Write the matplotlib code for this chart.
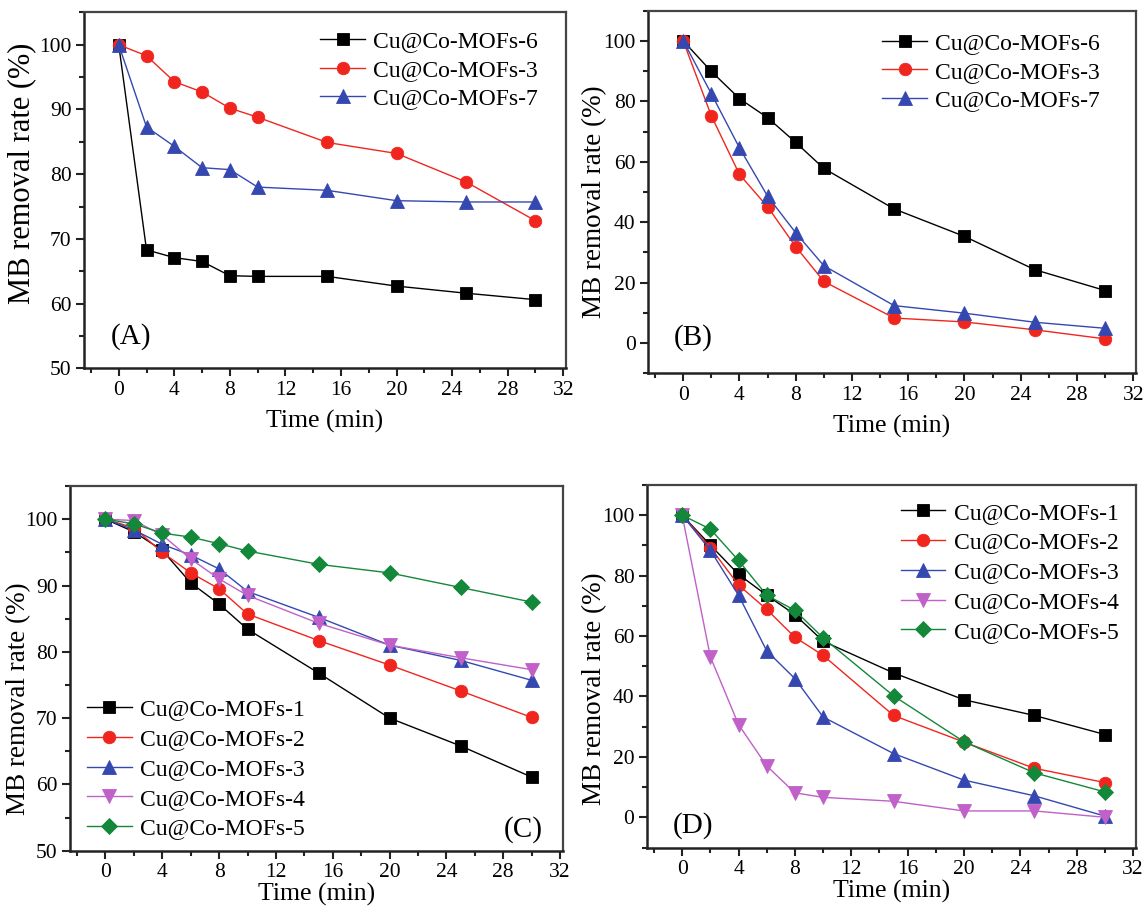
import matplotlib
matplotlib.use("Agg")
import matplotlib.pyplot as plt
from matplotlib.ticker import MultipleLocator

plt.rcParams['font.family'] = ['Liberation Serif', 'DejaVu Serif']

time = [0, 2, 4, 6, 8, 10, 15, 20, 25, 30]

# Panel A
a_labels = ['Cu@Co-MOFs-6', 'Cu@Co-MOFs-3', 'Cu@Co-MOFs-7']
a_m6 = [100, 68.3, 67.1, 66.5, 64.3, 64.2, 64.2, 62.7, 61.6, 60.6]
a_m3 = [100, 98.3, 94.3, 92.7, 90.2, 88.8, 84.9, 83.2, 78.8, 72.8]
a_m7 = [100, 87.3, 84.3, 81.0, 80.7, 78.0, 77.5, 75.9, 75.7, 75.7]

# Panel B
b_labels = ['Cu@Co-MOFs-6', 'Cu@Co-MOFs-3', 'Cu@Co-MOFs-7']
b_m6 = [100, 89.9, 80.9, 74.6, 66.4, 57.8, 44.4, 35.3, 24.3, 17.4]
b_m3 = [100, 75.2, 55.8, 45.1, 31.9, 20.4, 8.3, 7.0, 4.4, 1.4]
b_m7 = [100, 82.5, 64.6, 48.6, 36.5, 25.6, 12.4, 9.9, 6.9, 4.9]

# Panel C
c_labels = ['Cu@Co-MOFs-1', 'Cu@Co-MOFs-2', 'Cu@Co-MOFs-3', 'Cu@Co-MOFs-4', 'Cu@Co-MOFs-5']
c_m1 = [100, 98.1, 95.3, 90.4, 87.2, 83.4, 76.8, 70.0, 65.8, 61.1]
c_m2 = [100, 98.7, 95.0, 91.9, 89.5, 85.7, 81.7, 78.0, 74.1, 70.1]
c_m3 = [100, 98.4, 96.2, 94.6, 92.5, 89.1, 85.2, 81.0, 78.7, 75.7]
c_m4 = [100, 99.8, 97.6, 94.0, 91.0, 88.5, 84.3, 81.0, 79.1, 77.3]
c_m5 = [100, 99.3, 97.9, 97.3, 96.3, 95.2, 93.2, 91.9, 89.7, 87.5]

# Panel D
d_labels = ['Cu@Co-MOFs-1', 'Cu@Co-MOFs-2', 'Cu@Co-MOFs-3', 'Cu@Co-MOFs-4', 'Cu@Co-MOFs-5']
d_m1 = [100, 90.1, 80.4, 73.5, 67.1, 58.3, 47.8, 38.9, 33.7, 27.4]
d_m2 = [100, 89.3, 76.9, 68.8, 59.6, 53.6, 33.7, 24.9, 16.2, 11.5]
d_m3 = [100, 88.4, 73.5, 55.1, 45.9, 33.2, 21.1, 12.3, 7.1, 0.4]
d_m4 = [100, 53.1, 30.7, 17.0, 8.1, 6.6, 5.3, 2.1, 2.1, 0.0]
d_m5 = [100, 95.4, 85.0, 73.5, 68.5, 59.4, 40.2, 25.0, 14.7, 8.4]

BLACK = '#000000'
RED = '#f0261e'
BLUE = '#3548b0'
PURPLE = '#c060c8'
GREEN = '#13883a'

styles = {
    'black': dict(color=BLACK, marker='s', ms=8),
    'red': dict(color=RED, marker='o', ms=9),
    'blue': dict(color=BLUE, marker='^', ms=9.5),
    'purple': dict(color=PURPLE, marker='v', ms=9.5),
    'green': dict(color=GREEN, marker='D', ms=8),
}

fig = plt.figure(figsize=(11.43, 9.07), dpi=100)

positions = {
    'A': [0.0735, 0.594, 0.4217, 0.3923],
    'B': [0.567, 0.5884, 0.4269, 0.3998],
    'C': [0.0612, 0.0621, 0.4313, 0.4020],
    'D': [0.566, 0.0656, 0.4278, 0.3997],
}

TICK_FS = 15.5
XLABEL_FS = 18.5
LEG_FS = 17


def style_axes(ax, ylim, ymajor, yminor, xpad, ylab_fs, ylab_xy):
    ax.set_xlim(-2.5, 32.2)
    ax.set_ylim(*ylim)
    ax.xaxis.set_major_locator(MultipleLocator(4))
    ax.xaxis.set_minor_locator(MultipleLocator(2))
    ax.yaxis.set_major_locator(MultipleLocator(ymajor))
    ax.yaxis.set_minor_locator(MultipleLocator(yminor))
    ax.tick_params(which='both', direction='out', top=False, right=False,
                   labelsize=TICK_FS, width=1.5, color='#222222')
    ax.tick_params(which='major', length=6, pad=3)
    ax.tick_params(which='minor', length=3.5)
    for s in ['left', 'bottom']:
        ax.spines[s].set_linewidth(1.8)
        ax.spines[s].set_color('#222222')
    for s in ['top', 'right']:
        ax.spines[s].set_linewidth(1.6)
        ax.spines[s].set_color('#444444')
    ax.set_xlabel('Time (min)', fontsize=XLABEL_FS, labelpad=xpad)
    ax.set_ylabel('MB removal rate (%)', fontsize=ylab_fs)
    ax.yaxis.set_label_coords(*ylab_xy)


def plot_series(ax, series, labels, keys):
    for ys, lab, k in zip(series, labels, keys):
        st = styles[k]
        ax.plot(time, ys, color=st['color'], marker=st['marker'], ms=st['ms'],
                lw=1.0, label=lab, markeredgewidth=0.6, markeredgecolor=st['color'])


def leg_kw(spacing):
    return dict(frameon=False, fontsize=LEG_FS, handlelength=1.9, handletextpad=0.35,
                labelspacing=spacing, borderpad=0.2, borderaxespad=0)


# Panel A
axA = fig.add_axes(positions['A'])
plot_series(axA, [a_m6, a_m3, a_m7], a_labels, ['black', 'red', 'blue'])
style_axes(axA, (50, 105), 10, 5, 7, 22, (-0.10, 0.548))
axA.legend(loc='upper left', bbox_to_anchor=(0.48, 0.962), **leg_kw(0.3))
axA.text(-0.6, 54.9, '(A)', fontsize=21, ha='left', va='center')

# Panel B
axB = fig.add_axes(positions['B'])
plot_series(axB, [b_m6, b_m3, b_m7], b_labels, ['black', 'red', 'blue'])
style_axes(axB, (-10, 110), 20, 10, 7, 19.5, (-0.084, 0.472))
axB.legend(loc='upper left', bbox_to_anchor=(0.47, 0.953), **leg_kw(0.3))
axB.text(-0.7, 2.0, '(B)', fontsize=21, ha='left', va='center')

# Panel C
axC = fig.add_axes(positions['C'])
plot_series(axC, [c_m1, c_m2, c_m3, c_m4, c_m5], c_labels,
            ['black', 'red', 'blue', 'purple', 'green'])
style_axes(axC, (50, 105), 10, 5, 0.5, 19.5, (-0.079, 0.416))
axC.legend(loc='lower left', bbox_to_anchor=(0.025, 0.0176), **leg_kw(0.35))
axC.text(30.8, 53.2, '(C)', fontsize=21, ha='right', va='center')

# Panel D
axD = fig.add_axes(positions['D'])
plot_series(axD, [d_m1, d_m2, d_m3, d_m4, d_m5], d_labels,
            ['black', 'red', 'blue', 'purple', 'green'])
style_axes(axD, (-10, 110), 20, 10, 0.5, 19.5, (-0.082, 0.437))
axD.legend(loc='upper left', bbox_to_anchor=(0.509, 0.966), **leg_kw(0.35))
axD.text(-0.7, -2.7, '(D)', fontsize=21, ha='left', va='center')

fig.savefig('out.png', dpi=100)
